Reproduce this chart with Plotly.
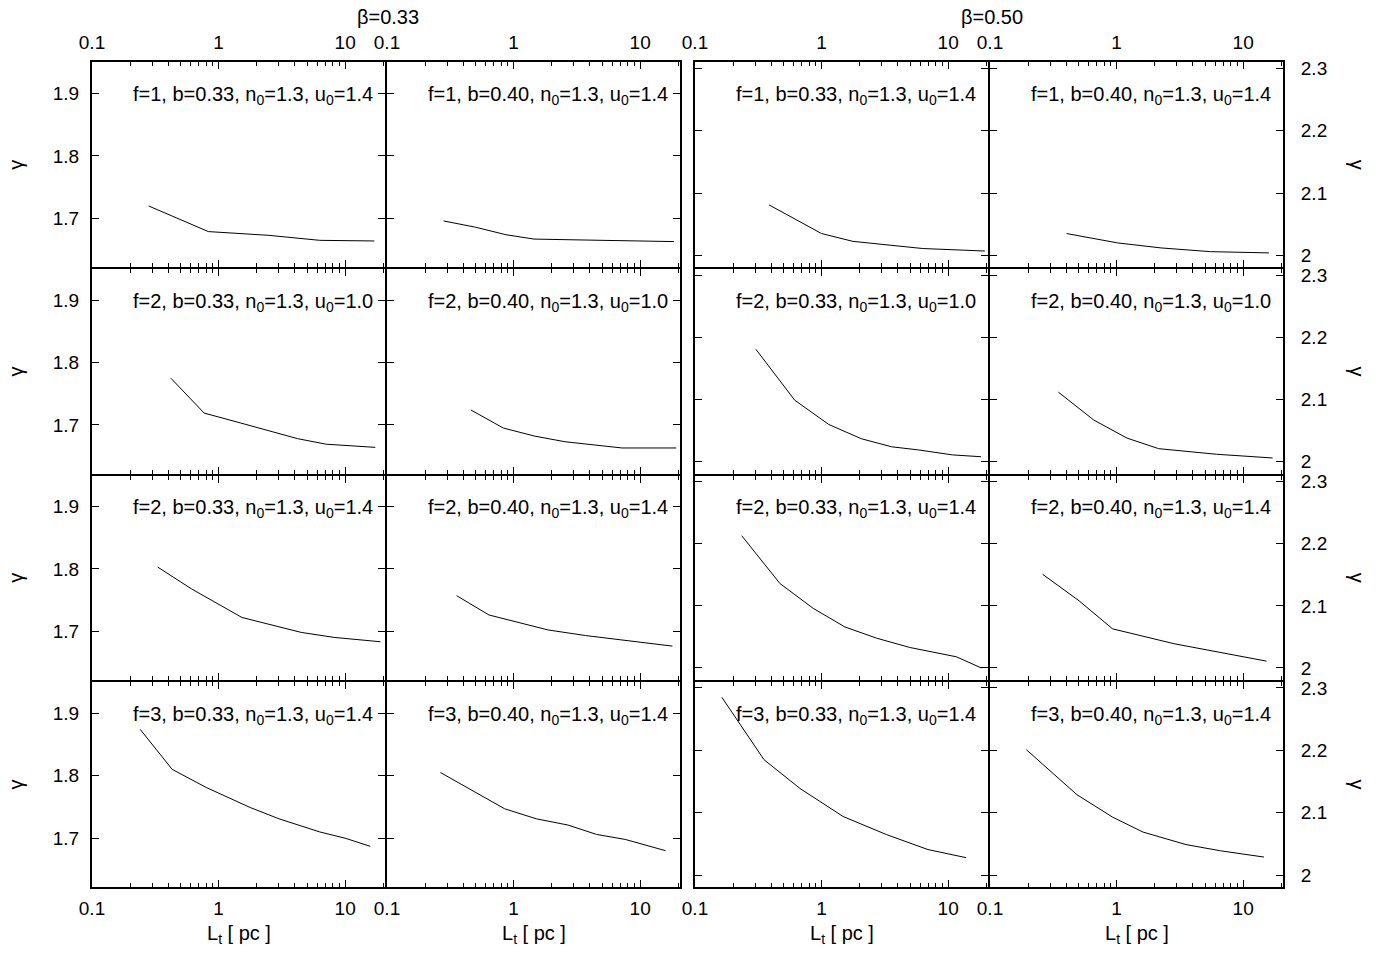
import plotly.graph_objects as go

# ---------------- data (L_t in pc, gamma) ----------------
# beta = 0.33 (left axis)
L_r1c1 = [0.28, 0.83, 2.5, 6.3, 17]
G_r1c1 = [1.720, 1.679, 1.673, 1.665, 1.664]
L_r1c2 = [0.28, 0.5, 0.87, 1.45, 5, 18.5]
G_r1c2 = [1.696, 1.686, 1.674, 1.667, 1.665, 1.663]
L_r2c1 = [0.42, 0.77, 1.5, 4.2, 7.1, 17.3]
G_r2c1 = [1.775, 1.719, 1.703, 1.678, 1.669, 1.664]
L_r2c2 = [0.46, 0.83, 1.47, 2.55, 7.2, 19.3]
G_r2c2 = [1.724, 1.695, 1.682, 1.673, 1.663, 1.663]
L_r3c1 = [0.33, 0.61, 1.53, 4.5, 8.2, 19]
G_r3c1 = [1.803, 1.768, 1.722, 1.698, 1.690, 1.683]
L_r3c2 = [0.355, 0.64, 1.87, 3.7, 18]
G_r3c2 = [1.757, 1.726, 1.702, 1.693, 1.676]
L_r4c1 = [0.24, 0.43, 0.8, 1.78, 3, 6.3, 10, 15.8]
G_r4c1 = [1.874, 1.810, 1.781, 1.749, 1.731, 1.710, 1.700, 1.687]
L_r4c2 = [0.264, 0.85, 1.51, 2.69, 4.53, 7.64, 15.9]
G_r4c2 = [1.805, 1.747, 1.731, 1.721, 1.706, 1.698, 1.680]
# beta = 0.50 (right axis)
L_r1c3 = [0.384, 1.0, 1.77, 3.0, 6.3, 19.5]
G_r1c3 = [2.081, 2.035, 2.0225, 2.018, 2.011, 2.007]
L_r1c4 = [0.403, 1.02, 2.24, 5.5, 16]
G_r1c4 = [2.035, 2.020, 2.012, 2.006, 2.004]
L_r2c3 = [0.303, 0.614, 1.14, 2.06, 3.58, 5.82, 10.8, 18.2]
G_r2c3 = [2.181, 2.099, 2.060, 2.037, 2.024, 2.019, 2.011, 2.008]
L_r2c4 = [0.347, 0.662, 1.21, 2.15, 6.15, 17.1]
G_r2c4 = [2.112, 2.067, 2.038, 2.021, 2.012, 2.006]
L_r3c3 = [0.234, 0.469, 0.859, 1.53, 2.72, 4.98, 11.6, 18.3]
G_r3c3 = [2.213, 2.136, 2.096, 2.066, 2.048, 2.033, 2.018, 2.000]
L_r3c4 = [0.26, 0.507, 0.929, 2.85, 15.3]
G_r3c4 = [2.151, 2.108, 2.063, 2.039, 2.011]
L_r4c3 = [0.163, 0.351, 0.675, 1.48, 3.26, 6.93, 13.9]
G_r4c3 = [2.285, 2.185, 2.139, 2.094, 2.065, 2.041, 2.028]
L_r4c4 = [0.194, 0.486, 0.93, 1.62, 3.54, 6.64, 14.6]
G_r4c4 = [2.201, 2.129, 2.093, 2.069, 2.049, 2.039, 2.029]

panel_L = [[L_r1c1, L_r1c2, L_r1c3, L_r1c4],
           [L_r2c1, L_r2c2, L_r2c3, L_r2c4],
           [L_r3c1, L_r3c2, L_r3c3, L_r3c4],
           [L_r4c1, L_r4c2, L_r4c3, L_r4c4]]
panel_G = [[G_r1c1, G_r1c2, G_r1c3, G_r1c4],
           [G_r2c1, G_r2c2, G_r2c3, G_r2c4],
           [G_r3c1, G_r3c2, G_r3c3, G_r3c4],
           [G_r4c1, G_r4c2, G_r4c3, G_r4c4]]

row_f = ["1", "2", "2", "3"]
row_u = ["1.4", "1.0", "1.4", "1.4"]
col_b = ["0.33", "0.40", "0.33", "0.40"]
beta_labels = ["β=0.33", "β=0.50"]

x_tickvals = [0.1, 1, 10]
x_ticktext = ["0.1", "1", "10"]
yl_tickvals = [1.7, 1.8, 1.9]
yl_ticktext = ["1.7", "1.8", "1.9"]
yr_tickvals = [2.0, 2.1, 2.2, 2.3]
yr_ticktext = ["2", "2.1", "2.2", "2.3"]

# ---------------- layout geometry ----------------
# the page body margin is removed (post_script), so the figure fills the window
W, H = 1385, 953
PX0, PX1, PY0, PY1 = 92, 1283, 62, 887          # plot area in window pixels
ML, MR = PX0, W - PX1
MT, MB = PY0, H - PY1
PW, PH = PX1 - PX0, PY1 - PY0

col_px = [(92, 385), (387, 680), (695, 988), (990, 1283)]
row_px = [(62, 267.25), (269.25, 473.5), (475.5, 679.75), (681.75, 887)]
col_dom = [((a - PX0) / PW, (b - PX0) / PW) for a, b in col_px]
row_dom = [(1 - (b - PY0) / PH, 1 - (a - PY0) / PH) for a, b in row_px]

FONT = "Liberation Sans, Arial, sans-serif"
FS_TICK = 19
FS = 20

fig = go.Figure()
layout = dict(
    width=W, height=H,
    margin=dict(l=ML, r=MR, t=MT, b=MB, pad=0),
    paper_bgcolor="white", plot_bgcolor="white",
    showlegend=False,
    font=dict(family=FONT, size=FS, color="black"),
)
annotations = []
minor_vals = [m * 10.0 ** e for e in (-1, 0, 1) for m in range(2, 10)]

for r in range(4):
    for c in range(4):
        k = r * 4 + c + 1
        xa = "x" if k == 1 else f"x{k}"
        ya = "y" if k == 1 else f"y{k}"
        fig.add_trace(go.Scatter(
            x=panel_L[r][c], y=panel_G[r][c], mode="lines",
            line=dict(color="black", width=1),
            xaxis=xa, yaxis=ya, hoverinfo="skip"))
        xkey = "xaxis" if k == 1 else f"xaxis{k}"
        ykey = "yaxis" if k == 1 else f"yaxis{k}"
        layout[xkey] = dict(
            type="log", range=[-1, 1.315], domain=list(col_dom[c]),
            anchor=ya, side="top" if r == 0 else "bottom",
            showticklabels=(r == 0 or r == 3),
            tickvals=x_tickvals, ticktext=x_ticktext,
            ticks="inside", ticklen=7, tickwidth=1, tickcolor="black",
            showline=True, linecolor="black", linewidth=2, mirror="allticks",
            showgrid=False, zeroline=False, ticklabelstandoff=3,
            minor=dict(ticks="inside", ticklen=4, tickwidth=1, tickcolor="black",
                       tickvals=minor_vals, showgrid=False),
            tickfont=dict(family=FONT, size=FS_TICK, color="black"),
        )
        left = c < 2
        layout[ykey] = dict(
            range=[1.622, 1.95] if left else [1.981, 2.31],
            domain=list(row_dom[r]), anchor=xa,
            side="left" if c == 0 else "right",
            showticklabels=(c == 0 or c == 3),
            tickvals=yl_tickvals if left else yr_tickvals,
            ticktext=yl_ticktext if left else yr_ticktext,
            ticks="inside", ticklen=7, tickwidth=1, tickcolor="black",
            showline=True, linecolor="black", linewidth=2, mirror="allticks",
            showgrid=False, zeroline=False,
            ticklabelstandoff=7 if c == 0 else 12,
            tickfont=dict(family=FONT, size=FS_TICK, color="black"),
        )
        label = (f"f={row_f[r]}, b={col_b[c]}, n<sub>0</sub>=1.3, "
                 f"u<sub>0</sub>={row_u[r]}")
        annotations.append(dict(
            text=label, xref=f"{xa} domain", yref=f"{ya} domain",
            x=1 - 10 / 293, y=1 - 19 / 205, xanchor="right", yanchor="top",
            showarrow=False, font=dict(family=FONT, size=FS, color="black")))

# y-axis titles
for r in range(4):
    yc = (row_dom[r][0] + row_dom[r][1]) / 2
    annotations.append(dict(text="γ", xref="paper", yref="paper",
                            x=(16 - PX0) / PW, y=yc, textangle=-90,
                            showarrow=False, xanchor="center", yanchor="middle",
                            font=dict(family=FONT, size=FS)))
    annotations.append(dict(text="γ", xref="paper", yref="paper",
                            x=(1357 - PX0) / PW, y=yc, textangle=90,
                            showarrow=False, xanchor="center", yanchor="middle",
                            font=dict(family=FONT, size=FS)))
# x-axis titles
for c in range(4):
    xc = (col_dom[c][0] + col_dom[c][1]) / 2
    annotations.append(dict(text="L<sub>t</sub> [ pc ]", xref="paper", yref="paper",
                            x=xc, y=-(935 - PY1) / PH, showarrow=False,
                            xanchor="center", yanchor="middle",
                            font=dict(family=FONT, size=FS)))
# beta titles
for xpx, txt in zip([388, 992], beta_labels):
    annotations.append(dict(text=txt, xref="paper", yref="paper",
                            x=(xpx - PX0) / PW, y=1 + (PY0 - 17) / PH,
                            showarrow=False, xanchor="center", yanchor="middle",
                            font=dict(family=FONT, size=FS)))

layout["annotations"] = annotations
fig.update_layout(**layout)
fig.write_html("out.html",
               config={"displayModeBar": False},
               post_script="document.body.style.margin='0px';"
                           "document.body.style.overflow='hidden';")
